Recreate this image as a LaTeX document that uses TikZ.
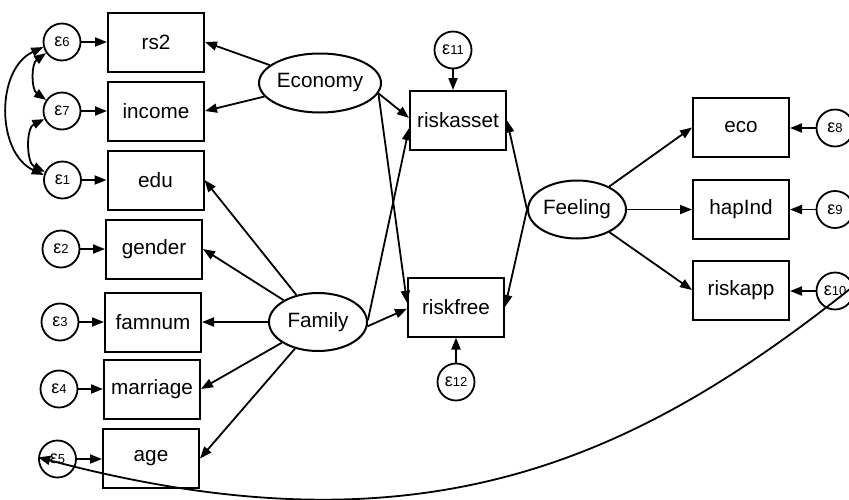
\documentclass[tikz,border=0pt]{standalone}
\usepackage{fontspec}
\setmainfont{Liberation Sans}
\usetikzlibrary{arrows.meta,shapes.geometric}
\newcommand\epslab[1]{{\fontsize{18}{20}\selectfont ε}{\fontsize{13}{15}\selectfont #1}}
\begin{document}
\begin{tikzpicture}[x=1pt,y=-1pt,
  every node/.style={font=\fontsize{20.7}{24}\selectfont},
  obs/.style={draw, line width=2pt, minimum width=96pt, minimum height=59pt, inner sep=0pt},
  lat/.style={draw, ellipse, line width=2pt, inner sep=0pt},
  err/.style={draw, circle, line width=1.8pt, minimum size=37pt, inner sep=0pt},
  tip/.tip={Triangle[length=12pt,width=9pt]},
  pth/.style={line width=1.8pt, -tip},
  cov/.style={line width=1.8pt, tip-tip}]
\useasboundingbox (0,0) rectangle (849,499);
\fill[white] (0,0) rectangle (849,499);
\clip (0,0) rectangle (849,499);

% observed, left
\node[obs] (rs2) at (156,42) {rs2};
\node[obs] (income) at (156,111) {income};
\node[obs] (edu) at (155.5,180) {edu};
\node[obs] (gender) at (154,249) {gender};
\node[obs] (famnum) at (153,322) {famnum};
\node[obs] (marriage) at (152,389) {marriage};
\node[obs] (age) at (151,458.5) {age};

% errors, left
\node[err] (e6) at (62,42) {\epslab{6}};
\node[err] (e7) at (62,111) {\epslab{7}};
\node[err] (e1) at (62.5,180) {\epslab{1}};
\node[err] (e2) at (61,249) {\epslab{2}};
\node[err] (e3) at (60,322) {\epslab{3}};
\node[err] (e4) at (59,389) {\epslab{4}};
\node[err] (e5) at (57.5,459) {\epslab{5}};

% latent
\node[lat, minimum width=97pt, minimum height=59pt] (economy) at (320,83) {Economy};
\node[lat, minimum width=98pt, minimum height=58pt] (family) at (318,322) {Family};
\node[lat, minimum width=98pt, minimum height=58pt] (feeling) at (577,209.5) {Feeling};

% middle
\node[obs] (riskasset) at (458,120.5) {riskasset};
\node[obs] (riskfree) at (456,307) {riskfree};
\node[err] (e11) at (453,50) {\epslab{11}};
\node[err] (e12) at (456,382) {\epslab{12}};

% right
\node[obs] (eco) at (741,127.5) {eco};
\node[obs] (hapInd) at (741,209.5) {hapInd};
\node[obs] (riskapp) at (741,290) {riskapp};
\node[err] (e8) at (835,128) {\epslab{8}};
\node[err] (e9) at (835,209.5) {\epslab{9}};
\node[err] (e10) at (835,291) {\epslab{10}};

% error paths
\foreach \e/\b in {e6/rs2,e7/income,e1/edu,e2/gender,e3/famnum,e4/marriage,e5/age}
  \draw[pth] (\e) -- (\e -| \b.west);
\foreach \e/\b in {e8/eco,e9/hapInd,e10/riskapp}
  \draw[pth] (\e) -- (\e -| \b.east);
\draw[pth] (e11) -- (e11 |- riskasset.north);
\draw[pth] (e12) -- (e12 |- riskfree.south);

% loadings
\draw[pth] (economy) -- (rs2.east);
\draw[pth] (economy) -- (income.east);
\foreach \b in {edu,gender,famnum,marriage,age}
  \draw[pth] (family) -- (\b.east);
\foreach \b in {eco,hapInd,riskapp}
  \draw[pth] (feeling) -- (\b.west);

% structural
\draw[pth] (economy.-10) -- (riskasset.177);
\draw[pth] (economy.-10) -- (riskfree.175);
\draw[pth] (family.2) -- (riskasset.189);
\draw[pth] (family.-5) -- (riskfree.182);
\draw[pth] (feeling.west) -- (riskasset.east);
\draw[pth] (feeling.west) -- (riskfree.east);

% covariances
\draw[cov] (e6.215) to[out=215,in=145] (e7.145);
\draw[cov] (e7.205) to[out=205,in=155] (e1.155);
\draw[cov] (e6.195) to[out=205,in=155,looseness=1.05] (e1.165);
\draw[pth] (e10.15) .. controls (636,459) and (425,560) .. (e5.175);
\end{tikzpicture}
\end{document}
